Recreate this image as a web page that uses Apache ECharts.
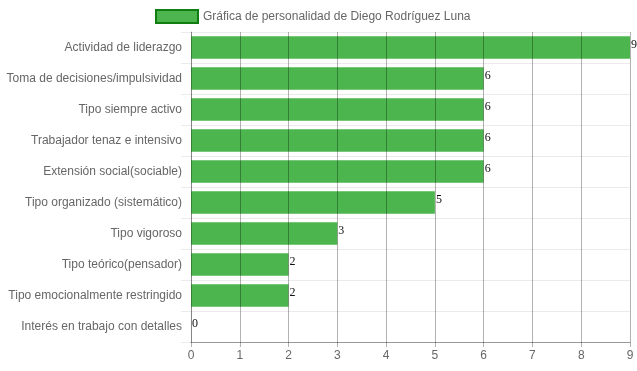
<!DOCTYPE html>
<html>
<head>
<meta charset="utf-8">
<script src="https://cdn.jsdelivr.net/npm/echarts@6/dist/echarts.min.js"></script>
<style>html,body{margin:0;padding:0;background:#fff;}#c{width:637px;height:371px;}</style>
</head>
<body>
<div id="c"></div>
<script>
const categories = [
  "Actividad de liderazgo",
  "Toma de decisiones/impulsividad",
  "Tipo siempre activo",
  "Trabajador tenaz e intensivo",
  "Extensión social(sociable)",
  "Tipo organizado (sistemático)",
  "Tipo vigoroso",
  "Tipo teórico(pensador)",
  "Tipo emocionalmente restringido",
  "Interés en trabajo con detalles"
];
const values = [9, 6, 6, 6, 6, 5, 3, 2, 2, 0];
const seriesName = "Gráfica de personalidad de Diego Rodríguez Luna";
const xTicks = [0, 1, 2, 3, 4, 5, 6, 7, 8, 9];

const chart = echarts.init(document.getElementById('c'), null, {renderer: 'canvas'});
chart.setOption({
  animation: false,
  textStyle: {fontFamily: 'Liberation Sans, Arial, sans-serif'},
  legend: {
    top: 4,
    left: 150,
    itemWidth: 42,
    itemHeight: 13,
    itemGap: 6,
    icon: 'rect',
    itemStyle: {borderColor: '#0f7d0f', borderWidth: 2},
    textStyle: {color: '#666', fontSize: 12},
    data: [seriesName]
  },
  grid: {left: 191, right: 7, top: 32, bottom: 29, containLabel: false},
  xAxis: {
    type: 'value',
    min: xTicks[0],
    max: xTicks[xTicks.length - 1],
    interval: 1,
    z: 5,
    axisLine: {show: true, lineStyle: {color: '#999'}},
    axisTick: {show: true, length: 5, lineStyle: {color: 'rgba(0,0,0,0.3)'}},
    axisLabel: {color: '#666', fontSize: 12, margin: 8},
    splitLine: {show: true, lineStyle: {color: 'rgba(0,0,0,0.3)', width: 1}}
  },
  yAxis: {
    type: 'category',
    inverse: true,
    data: categories,
    axisLine: {show: true, lineStyle: {color: 'rgba(0,0,0,0.25)'}},
    axisTick: {show: true, length: 10, lineStyle: {color: 'rgba(0,0,0,0.08)'}},
    axisLabel: {color: '#666', fontSize: 12, margin: 9},
    splitLine: {show: true, lineStyle: {color: 'rgba(0,0,0,0.08)', width: 1}}
  },
  series: [{
    name: seriesName,
    type: 'bar',
    data: values,
    barCategoryGap: '27%',
    itemStyle: {color: '#4db54d'},
    label: {
      show: true,
      position: 'right',
      distance: 1,
      offset: [0, -3],
      color: '#111',
      fontSize: 12,
      fontFamily: 'Liberation Serif, Times New Roman, serif'
    }
  }]
});
</script>
</body>
</html>
